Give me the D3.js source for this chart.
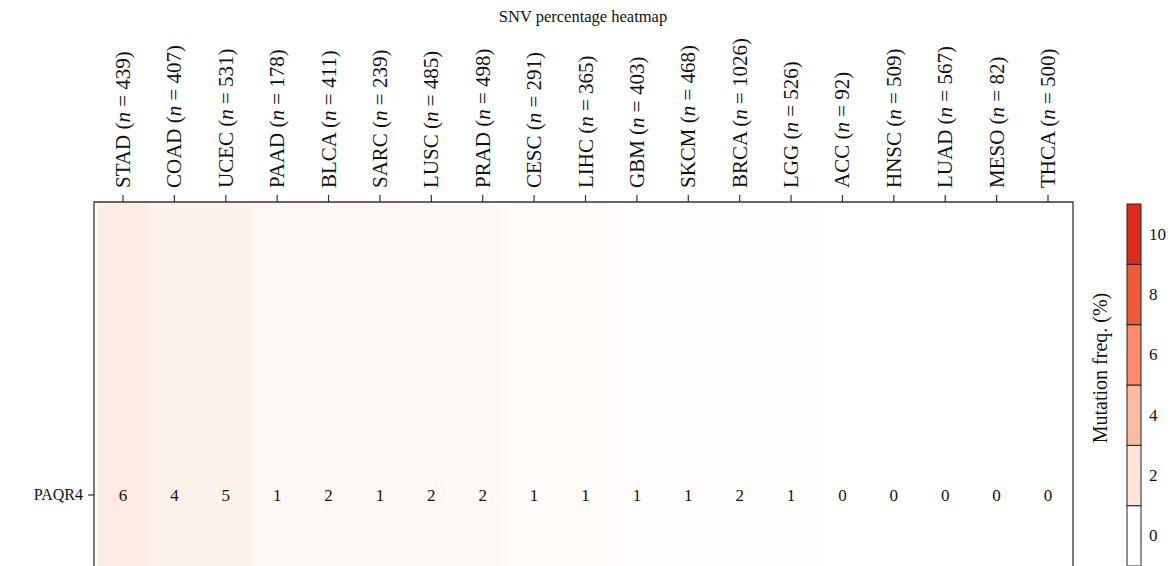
<!DOCTYPE html>
<html>
<head>
<meta charset="utf-8">
<script src="https://cdn.jsdelivr.net/npm/d3@7"></script>
<style>
  html, body { margin: 0; padding: 0; background: #fff; }
  svg { display: block; }
  text { font-family: "Liberation Serif", "Times New Roman", serif; fill: #111; }
</style>
</head>
<body>
<svg id="chart" width="1171" height="566"></svg>
<script>
// ---- data ----
const cancers = ["STAD","COAD","UCEC","PAAD","BLCA","SARC","LUSC","PRAD","CESC","LIHC","GBM","SKCM","BRCA","LGG","ACC","HNSC","LUAD","MESO","THCA"];
const sampleN = [439,407,531,178,411,239,485,498,291,365,403,468,1026,526,92,509,567,82,500];
const genes = ["PAQR4"];
const snvPercent = [6,4,5,1,2,1,2,2,1,1,1,1,2,1,0,0,0,0,0];
// cell shading level
const fillLevel = [6,4,4,2.5,2.5,2.5,2,2,1.3,1.3,0.6,0.6,0.6,0.6,0,0,0,0,0];
const legendTicks = [0,2,4,6,8,10];
const legendColors = ["#ffffff","#fee4d8","#fcbaa1","#fc8c6c","#f05a3c","#d92b1e"];
const titleText = "SNV percentage heatmap";
const legendTitle = "Mutation freq. (%)";

// ---- layout ----
const svg = d3.select("#chart");
const panel = {left: 94, right: 1073, top: 202, bottom: 788};
const cellLeft = 97.3, cellRight = 1073.7;

const x = d3.scaleBand().domain(cancers).range([cellLeft, cellRight]).padding(0);
const y = d3.scaleBand().domain(genes).range([panel.top, panel.bottom]).padding(0);
const color = d3.scaleLinear().domain([0, 6]).range(["#ffffff", "#feebe4"]).clamp(true);

const cells = cancers.map((c, i) => ({cancer: c, gene: genes[0], v: snvPercent[i], f: fillLevel[i]}));

// cells
svg.append("g").selectAll("rect").data(cells).join("rect")
  .attr("x", d => x(d.cancer))
  .attr("y", d => y(d.gene))
  .attr("width", x.bandwidth() + 0.5)
  .attr("height", y.bandwidth())
  .attr("fill", d => color(d.f));

// values
svg.append("g").selectAll("text").data(cells).join("text")
  .attr("x", d => x(d.cancer) + x.bandwidth() / 2)
  .attr("y", d => y(d.gene) + y.bandwidth() / 2)
  .attr("text-anchor", "middle")
  .attr("dominant-baseline", "central")
  .style("font-size", "17px")
  .text(d => d.v);

// panel border (top, left, right)
svg.append("path")
  .attr("d", `M${panel.left},${panel.bottom}V${panel.top}H${panel.right}V${panel.bottom}`)
  .attr("fill", "none").attr("stroke", "#333").attr("stroke-width", 1.3);

// top axis
const xAxis = d3.axisTop(x).tickSize(7).tickSizeOuter(0).tickFormat("");
const gx = svg.append("g").attr("transform", `translate(0,${panel.top})`).call(xAxis);
gx.select(".domain").remove();
gx.selectAll("line").attr("stroke", "#333").attr("stroke-width", 1.2);

const labels = svg.append("g").selectAll("text").data(cancers).join("text")
  .attr("transform", d => `translate(${x(d) + x.bandwidth() / 2 + 7},${panel.top - 14}) rotate(-90)`)
  .attr("text-anchor", "start")
  .style("font-size", "21px");
labels.each(function(d, i) {
  const t = d3.select(this);
  t.append("tspan").text(d + " (");
  t.append("tspan").style("font-style", "italic").text("n");
  t.append("tspan").text(" = " + sampleN[i] + ")");
});

// left axis
const yAxis = d3.axisLeft(y).tickSize(6).tickSizeOuter(0);
const gy = svg.append("g").attr("transform", `translate(${panel.left},0)`).call(yAxis);
gy.select(".domain").remove();
gy.selectAll("line").attr("stroke", "#333").attr("stroke-width", 1.2);
gy.selectAll("text").attr("x", -11).style("font-size", "16px")
  .style("font-family", "'Liberation Serif', 'Times New Roman', serif").attr("fill", "#111");

// title
svg.append("text")
  .attr("x", 583).attr("y", 22)
  .attr("text-anchor", "middle")
  .style("font-size", "16.5px")
  .text(titleText);

// legend
const leg = {x: 1127, w: 14, top: 204, bottom: 566};
const ly = d3.scaleBand().domain(legendTicks.slice().reverse()).range([leg.top, leg.bottom]).padding(0);
const lg = svg.append("g");
lg.selectAll("rect").data(legendTicks).join("rect")
  .attr("x", leg.x).attr("y", d => ly(d))
  .attr("width", leg.w).attr("height", ly.bandwidth())
  .attr("fill", (d, i) => legendColors[i])
  .attr("stroke", "#222").attr("stroke-width", 1);
lg.selectAll("text").data(legendTicks).join("text")
  .attr("x", leg.x + leg.w + 8)
  .attr("y", d => ly(d) + ly.bandwidth() / 2)
  .attr("dominant-baseline", "central")
  .style("font-size", "17px")
  .text(d => d);
svg.append("text")
  .attr("transform", `translate(1107,368) rotate(-90)`)
  .attr("text-anchor", "middle")
  .style("font-size", "20px")
  .text(legendTitle);
</script>
</body>
</html>
